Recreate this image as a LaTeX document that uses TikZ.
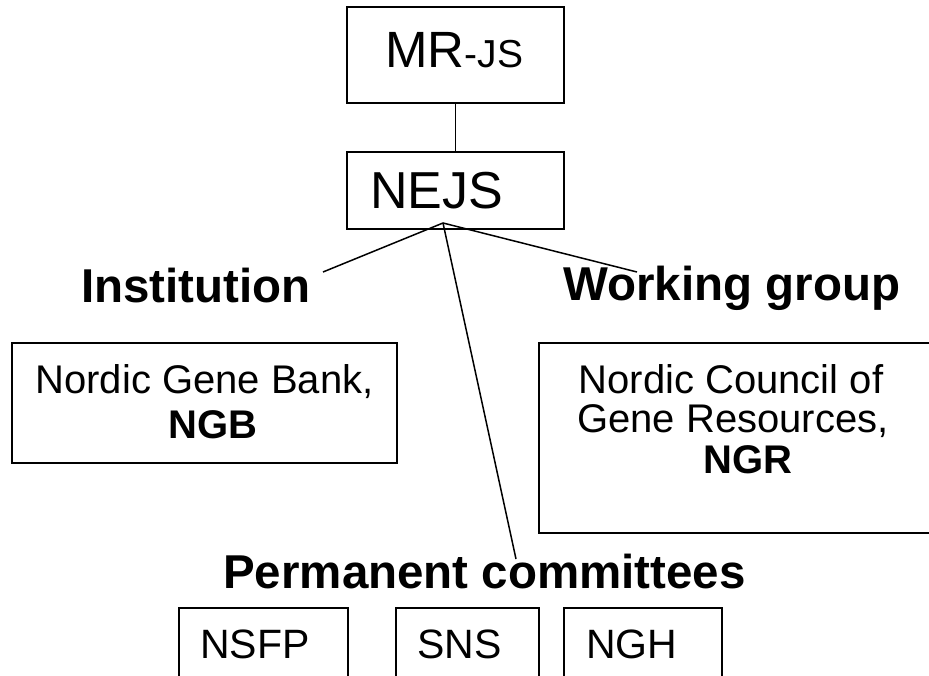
\documentclass[tikz,border=0pt]{standalone}
\usepackage{fontspec}
\setmainfont{Liberation Sans}
\begin{document}
\begin{tikzpicture}[x=1pt,y=-1pt,
  frame/.style={draw, line width=2pt, inner sep=0pt, outer sep=0pt, minimum height=112pt},
  head/.style={font=\fontsize{47.5}{50}\selectfont\bfseries, inner sep=0pt, anchor=base west},
  boxtext/.style={inner sep=0pt, anchor=base, font=\fontsize{40}{44}\selectfont},
  small/.style={inner sep=0pt, anchor=base west, font=\fontsize{41}{44}\selectfont},
  link/.style={line width=1.5pt}]
\clip (0,0) rectangle (929,675);
\fill[white] (0,0) rectangle (929,675);

% boxes
\node[frame, minimum width=217pt, minimum height=96pt] (mrjs) at (455.5,55) {};
\node[frame, minimum width=217pt, minimum height=77pt] (nejs) at (455.5,190.5) {};
\node[frame, minimum width=385pt, minimum height=120pt] (ngb) at (204.5,403) {};
\node[frame, minimum width=431pt, minimum height=190pt] (ngr) at (754.5,438) {};
\node[frame, minimum width=169pt] (nsfp) at (263.5,664) {};
\node[frame, minimum width=143pt] (sns) at (467.5,664) {};
\node[frame, minimum width=158pt] (ngh) at (643,664) {};

% box texts
\node[inner sep=0pt, anchor=base west] (mrjst) at (385,67)
  {\fontsize{51}{54}\selectfont MR\fontsize{39}{40}\selectfont -JS};
\node[inner sep=0pt, anchor=base west, font=\fontsize{52}{54}\selectfont] (nejst) at (370,208) {NEJS};
\node[boxtext] (ngb1) at (204.5,393) {Nordic Gene Bank,};
\node[boxtext, font=\fontsize{40}{44}\selectfont\bfseries] (ngb2) at (213,438) {NGB};
\node[boxtext] (ngr1) at (731,393) {Nordic Council of};
\node[boxtext] (ngr2) at (733,432) {Gene Resources,};
\node[boxtext, font=\fontsize{40}{44}\selectfont\bfseries] (ngr3) at (748,473) {NGR};
\node[small] (nsfpt) at (200,658) {NSFP};
\node[small] (snst) at (417,658) {SNS};
\node[small] (nght) at (586,658) {NGH};

% headings
\node[head] (inst) at (81,302) {Institution};
\node[head] (work) at (563,300) {Working group};
\node[head] (perm) at (223,588) {Permanent committees};

% connectors
\coordinate (apex) at (443,223);
\coordinate (instend) at (323,272);
\coordinate (workend) at (637,272);
\coordinate (permend) at (516,559);
\draw[link] (mrjs.south) -- (nejs.north);
\draw[link] (instend) -- (apex) -- (workend);
\draw[link] (apex) -- (permend);
\end{tikzpicture}
\end{document}
